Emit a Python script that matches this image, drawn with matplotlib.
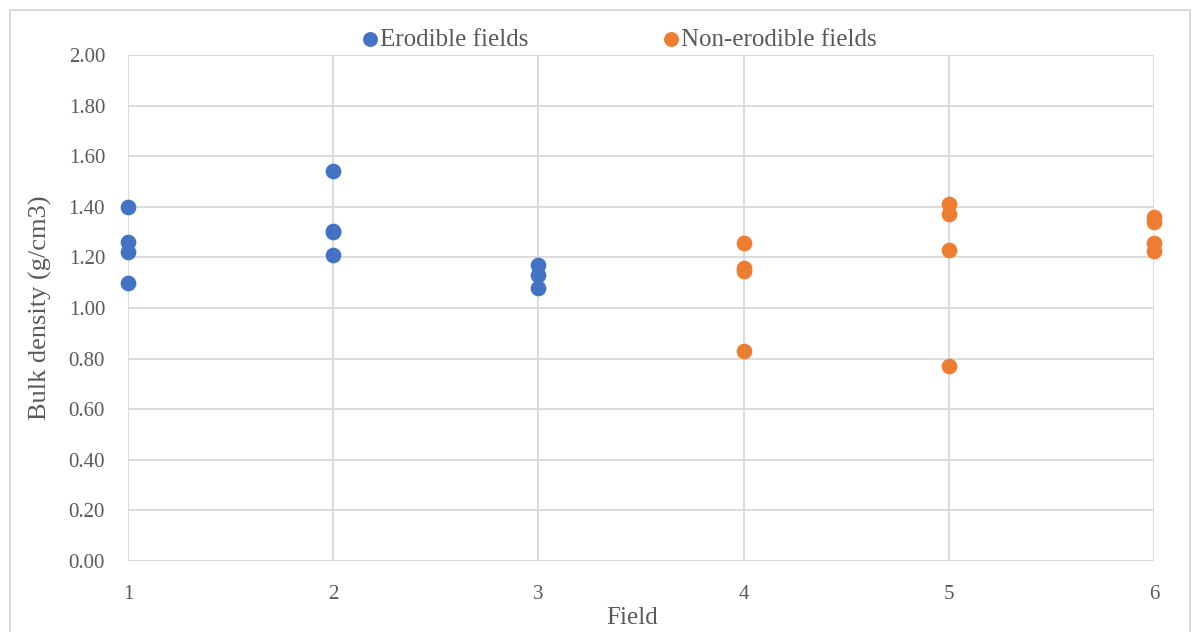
import matplotlib
matplotlib.use("Agg")
import matplotlib.pyplot as plt
from matplotlib.patches import Rectangle

# Bulk density samples per field
erodible_field = [1, 1, 1, 1, 2, 2, 2, 2, 3, 3, 3]
erodible_density = [1.40, 1.26, 1.22, 1.10, 1.54, 1.30, 1.305, 1.21, 1.17, 1.13, 1.08]

nonerodible_field = [4, 4, 4, 4, 5, 5, 5, 5, 6, 6, 6, 6]
nonerodible_density = [1.255, 1.16, 1.145, 0.83, 1.41, 1.37, 1.23, 0.77, 1.36, 1.34, 1.255, 1.225]

x_ticks = [1, 2, 3, 4, 5, 6]
y_ticks = [0.0, 0.2, 0.4, 0.6, 0.8, 1.0, 1.2, 1.4, 1.6, 1.8, 2.0]

plt.rcParams['font.family'] = ['Liberation Serif', 'DejaVu Serif']

W, H = 1200, 632
fig = plt.figure(figsize=(W / 100, H / 100), dpi=100)
ax = fig.add_axes([128 / W, 1 - 561 / H, (1154 - 128) / W, (561 - 55) / H])

grid_c = '#D9D9D9'
text_c = '#595959'

ax.scatter(erodible_field, erodible_density, s=128, color='#4472C4', zorder=3,
           label='Erodible fields', clip_on=False, linewidths=0)
ax.scatter(nonerodible_field, nonerodible_density, s=128, color='#ED7D31', zorder=3,
           label='Non-erodible fields', clip_on=False, linewidths=0)

ax.set_xlim(1, 6)
ax.set_ylim(0, 2.0)
ax.set_xticks(x_ticks)
ax.set_xticklabels([str(v) for v in x_ticks])
ax.set_yticks(y_ticks)
ax.set_yticklabels([f'{v:.2f}' for v in y_ticks])
ax.grid(True, color=grid_c, linewidth=1.3)
ax.set_axisbelow(True)
for s in ax.spines.values():
    s.set_visible(False)
ax.tick_params(axis='both', length=0, labelsize=15, colors=text_c)
ax.tick_params(axis='x', pad=17)
ax.tick_params(axis='y', pad=16.5)

fig.text(632 / W, 1 - 618 / H, 'Field', fontsize=18, color=text_c, ha='center', va='center')
ax.set_ylabel('Bulk density (g/cm3)', fontsize=19, color=text_c, labelpad=12)

leg = fig.legend(loc='upper left', bbox_to_anchor=(362.5 / W, 1 - 28 / H), ncol=2,
                 frameon=False, fontsize=18, handlelength=0.6, handletextpad=0.1,
                 columnspacing=5.4, markerscale=0.95, labelcolor=text_c,
                 borderpad=0, borderaxespad=0)

# chart frame
fig.patches.append(Rectangle((10 / W, -0.01), 1180 / W, 1 - 10 / H + 0.01,
                             transform=fig.transFigure, fill=False,
                             edgecolor=grid_c, linewidth=1.3))

fig.savefig('out.png', dpi=100)
